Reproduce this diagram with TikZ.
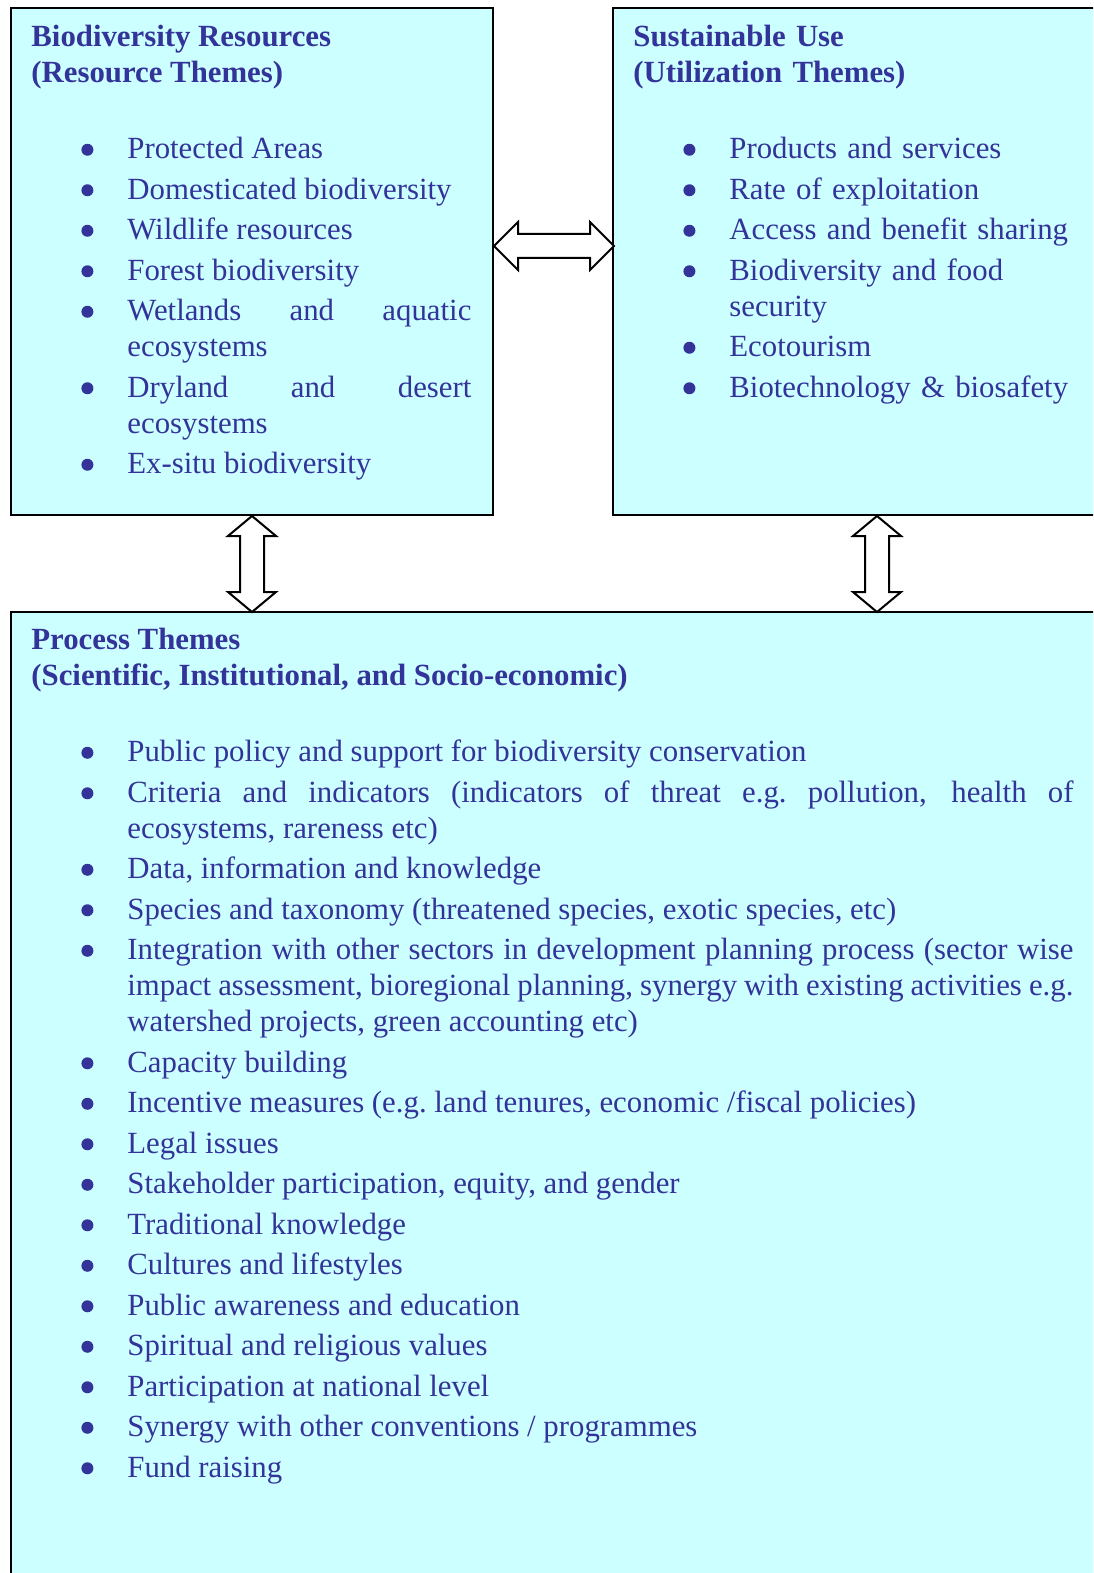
\documentclass[tikz,border=0pt]{standalone}
\usepackage{fontspec}
\setmainfont{Liberation Serif}
\usepackage{xcolor}
\usetikzlibrary{positioning}
\definecolor{themeblue}{HTML}{333399}
\definecolor{themefill}{HTML}{CCFFFF}
\newcommand{\themebullet}{\tikz[baseline=-4.5pt]\fill[themeblue] (0,0) circle (3pt);}
\newenvironment{themelist}{\begin{list}{\themebullet}{\setlength\topsep{0pt}\setlength\partopsep{0pt}\setlength\parsep{0pt}\setlength\itemsep{2.25pt}\setlength\leftmargin{48pt}\setlength\labelsep{17pt}\setlength\labelwidth{31pt}}}{\end{list}}
\tikzset{
	themebox/.style={draw, line width=1pt, fill=themefill, anchor=north west, inner sep=0pt},
	themetext/.style={anchor=north west, inner sep=0pt, text=themeblue, font=\fontsize{15.4}{18}\selectfont},
	blockarrow/.style={draw, line width=1pt, fill=white, line join=miter}
}
\begin{document}
\begin{tikzpicture}[x=0.5pt, y=-0.5pt]
					\useasboundingbox (0,0) rectangle (1093,1573);
					\fill[white] (0,0) rectangle (1093,1573);
					\clip (0,0) rectangle (1093,1573);

					\node[themebox, minimum width=241pt, minimum height=253.5pt] (res) at (10,7) {};
					\node[themebox, minimum width=244pt, minimum height=253.5pt] (use) at (612,7) {};
					\node[themebox, minimum width=545pt, minimum height=489.5pt] (proc) at (10,611) {};

					\node[themetext, text width=220pt, align=justify] (restxt) at (31,25) {%
						\textbf{Biodiversity Resources\\(Resource Themes)}\par\vspace{20pt}
						\begin{themelist}
						\item Protected Areas
						\item Domesticated biodiversity
						\item Wildlife resources
						\item Forest biodiversity
						\item Wetlands and aquatic\linebreak ecosystems
						\item Dryland and desert\linebreak ecosystems
						\item Ex-situ biodiversity
						\end{themelist}};

					\node[themetext, text width=220pt, align=left] (usetxt) at (633,25) {%
						\textbf{Sustainable Use\\(Utilization Themes)}\par\vspace{20pt}
						\begin{themelist}
						\item Products and services
						\item Rate of exploitation
						\item Access and benefit sharing
						\item Biodiversity and food\\security
						\item Ecotourism
						\item Biotechnology \& biosafety
						\end{themelist}};

					\node[themetext, text width=521pt, align=justify] (proctxt) at (31,628) {%
						\textbf{Process Themes\\(Scientific, Institutional, and Socio-economic)}\par\vspace{20pt}
						\begin{themelist}
						\item Public policy and support for biodiversity conservation
						\item Criteria and indicators (indicators of threat e.g.\ pollution, health of\linebreak ecosystems, rareness etc)
						\item Data, information and knowledge
						\item Species and taxonomy (threatened species, exotic species, etc)
						\item Integration with other sectors in development planning process (sector wise\linebreak impact assessment, bioregional planning, synergy with existing activities e.g.\linebreak watershed projects, green accounting etc)
						\item Capacity building
						\item Incentive measures (e.g.\ land tenures, economic /fiscal policies)
						\item Legal issues
						\item Stakeholder participation, equity, and gender
						\item Traditional knowledge
						\item Cultures and lifestyles
						\item Public awareness and education
						\item Spiritual and religious values
						\item Participation at national level
						\item Synergy with other conventions / programmes
						\item Fund raising
						\end{themelist}};

					\draw[blockarrow] (res.north east) ++(0,239) -- ++(24,-24) -- ++(0,12) -- ++(72,0) -- ++(0,-12) -- ++(24,24) -- ++(-24,24) -- ++(0,-12) -- ++(-72,0) -- ++(0,12) -- cycle;
					\draw[blockarrow] (res.south) -- ++(24,20) -- ++(-12,0) -- ++(0,56) -- ++(12,0) -- ++(-24,20) -- ++(-24,-20) -- ++(12,0) -- ++(0,-56) -- ++(-12,0) -- cycle;
					\draw[blockarrow] (use.south west) ++(265,0) -- ++(24,20) -- ++(-12,0) -- ++(0,56) -- ++(12,0) -- ++(-24,20) -- ++(-24,-20) -- ++(12,0) -- ++(0,-56) -- ++(-12,0) -- cycle;
				\end{tikzpicture}
\end{document}
